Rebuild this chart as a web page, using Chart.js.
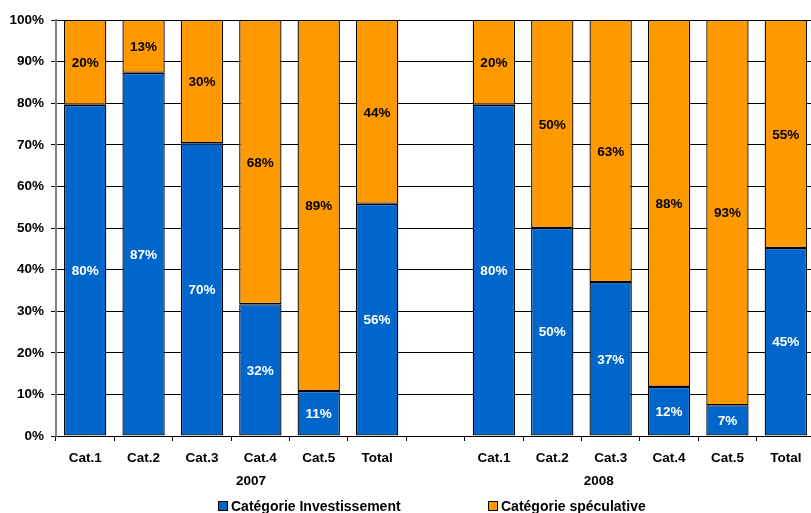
<!DOCTYPE html>
<html>
<head>
<meta charset="utf-8">
<script src="https://cdn.jsdelivr.net/npm/chart.js@4.4.1/dist/chart.umd.min.js"></script>
<style>
  html, body { margin: 0; padding: 0; background: #fff; }
  #wrap { position: relative; width: 811px; height: 513px; overflow: hidden; }
  canvas { position: absolute; left: 0; top: 0; }
  .leg { position: absolute; top: 498px; font: bold 14px "Liberation Sans", Arial, sans-serif; color: #000; white-space: nowrap; display: flex; align-items: center; }
  .leg .box { width: 8px; height: 8px; border: 1px solid #000; margin-right: 3px; }
</style>
</head>
<body>
<div id="wrap">
  <canvas id="c" width="815" height="513"></canvas>
  <div class="leg" style="left:218px"><span class="box" style="background:#0066CC"></span>Catégorie Investissement</div>
  <div class="leg" style="left:488px"><span class="box" style="background:#FF9900"></span>Catégorie spéculative</div>
</div>
<script>
// Data
const categories = ['Cat.1','Cat.2','Cat.3','Cat.4','Cat.5','Total','', 'Cat.1','Cat.2','Cat.3','Cat.4','Cat.5','Total'];
const years = ['2007', '2008'];
const investissement = [79.6, 87.3, 70.4, 31.7, 10.8, 55.8, null, 79.6, 50.0, 37.0, 11.8, 7.4, 45.2];
const speculative   = [20.4, 12.7, 29.6, 68.3, 89.2, 44.2, null, 20.4, 50.0, 63.0, 88.2, 92.6, 54.8];
const yTicks = [0,10,20,30,40,50,60,70,80,90,100];

const FONT = '"Liberation Sans", Arial, sans-serif';

const labelPlugin = {
  id: 'segLabels',
  afterDatasetsDraw(chart) {
    const ctx = chart.ctx;
    ctx.save();
    ctx.font = 'bold 13.5px ' + FONT;
    ctx.textAlign = 'center';
    ctx.textBaseline = 'middle';
    chart.data.datasets.forEach((ds, di) => {
      const meta = chart.getDatasetMeta(di);
      meta.data.forEach((el, i) => {
        const v = ds.data[i];
        if (v == null) return;
        const cy = (el.y + el.base) / 2;
        ctx.fillStyle = di === 0 ? '#ffffff' : '#000000';
        ctx.fillText(Math.round(v) + '%', el.x, cy + 1);
      });
    });
    ctx.restore();
  }
};

const yearPlugin = {
  id: 'yearLabels',
  afterDraw(chart) {
    const ctx = chart.ctx;
    const x = chart.scales.x;
    ctx.save();
    ctx.font = 'bold 13.5px ' + FONT;
    ctx.fillStyle = '#000';
    ctx.textAlign = 'center';
    ctx.textBaseline = 'middle';
    const pos = [0.257, 0.715];
    years.forEach((y, i) => {
      ctx.fillText(y, x.getPixelForDecimal(pos[i]), 481);
    });
    ctx.restore();
  }
};

new Chart(document.getElementById('c'), {
  type: 'bar',
  data: {
    labels: categories,
    datasets: [
      { label: 'Catégorie Investissement', data: investissement, backgroundColor: '#0066CC', borderColor: '#000', borderWidth: 1.3, borderSkipped: false, barPercentage: 0.725, categoryPercentage: 1 },
      { label: 'Catégorie spéculative', data: speculative, backgroundColor: '#FF9900', borderColor: '#000', borderWidth: 1.3, borderSkipped: false, barPercentage: 0.725, categoryPercentage: 1 }
    ]
  },
  options: {
    responsive: false,
    animation: false,
    events: [],
    layout: { padding: { top: 20, right: 0, left: 0, bottom: 0 } },
    plugins: { legend: { display: false }, tooltip: { enabled: false } },
    scales: {
      x: {
        stacked: true,
        grid: { offset: true, drawOnChartArea: false, color: '#000', tickLength: 5, lineWidth: 1 },
        border: { color: '#000', width: 1 },
        ticks: { font: { family: FONT, size: 13.5, weight: 'bold' }, color: '#000', padding: 9, maxRotation: 0, autoSkip: false },
        afterFit(s) { s.height = 77; }
      },
      y: {
        stacked: true,
        min: 0, max: 100,
        afterBuildTicks(s) { s.ticks = yTicks.map(v => ({ value: v })); },
        grid: { color: '#000', tickLength: 5, lineWidth: 1 },
        border: { color: '#808080', width: 2 },
        ticks: { font: { family: FONT, size: 13.5, weight: 'bold' }, color: '#000', padding: 7, callback: v => v + '%' },
        afterFit(s) { s.width = 56; }
      }
    }
  },
  plugins: [labelPlugin, yearPlugin]
});
</script>
</body>
</html>
